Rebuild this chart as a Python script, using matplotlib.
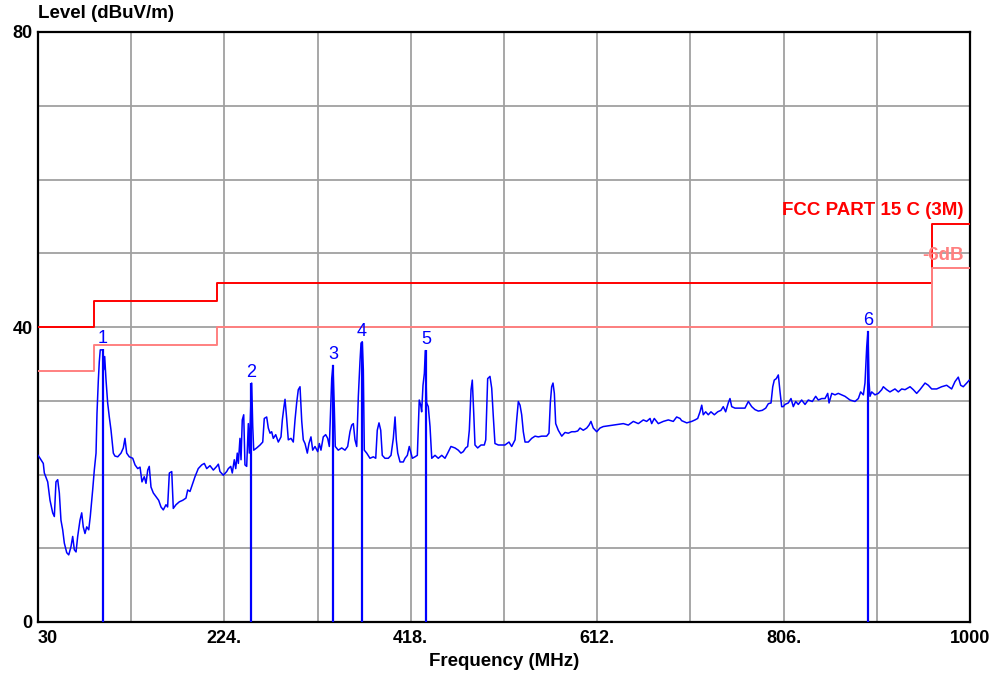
import matplotlib
matplotlib.use("Agg")
import matplotlib.pyplot as plt

# measured trace (MHz, dBuV/m)
freq = [30.0, 32.1, 35.5, 36.6, 40.1, 42.5, 45.3, 47.0, 48.7, 50.5, 52.2, 53.9, 55.7, 57.4,
        59.9, 62.0, 64.3, 66.1, 67.8, 69.6, 71.3, 73.7, 75.5, 77.1, 78.9, 80.7, 82.8, 84.4,
        86.9, 88.6, 90.4, 91.4, 92.8, 93.8, 94.8, 97.3, 98.4, 99.4, 100.8, 102.5, 104.2,
        106.0, 108.4, 110.1, 113.0, 116.4, 118.8, 120.5, 122.3, 125.0, 128.6, 131.0, 133.8,
        136.2, 138.2, 140.6, 142.4, 144.2, 145.8, 147.6, 150.0, 152.8, 155.6, 158.0, 160.4,
        163.2, 164.9, 166.7, 169.2, 170.8, 173.6, 177.1, 180.6, 184.0, 185.8, 188.2, 191.0,
        193.4, 196.8, 200.4, 203.1, 205.6, 209.0, 212.5, 216.0, 217.7, 219.4, 222.9, 226.4,
        228.1, 230.6, 232.2, 234.3, 235.8, 237.4, 238.5, 240.2, 241.3, 242.6, 244.1, 245.4,
        247.2, 248.9, 249.9, 251.4, 252.4, 253.5, 254.5, 257.6, 261.1, 263.9, 265.5, 268.0,
        269.7, 271.5, 273.2, 274.9, 277.4, 280.1, 282.9, 284.3, 286.0, 287.1, 288.8, 290.5,
        293.3, 295.7, 297.5, 299.2, 300.9, 302.7, 304.5, 306.1, 307.9, 310.3, 312.0, 314.1,
        315.9, 318.3, 321.1, 322.8, 324.5, 326.9, 329.4, 331.5, 333.2, 334.6, 335.7, 337.0,
        338.4, 339.4, 342.5, 346.1, 349.5, 352.3, 354.7, 356.5, 358.2, 359.9, 361.7, 363.4,
        365.1, 366.2, 367.5, 368.6, 369.6, 372.1, 375.5, 379.0, 381.5, 383.1, 384.9, 386.7,
        388.3, 391.1, 394.6, 397.4, 399.8, 401.6, 402.9, 404.4, 406.8, 410.2, 412.0, 414.4,
        416.4, 418.2, 419.6, 422.4, 424.8, 426.8, 428.3, 429.3, 430.7, 432.1, 433.1, 434.5,
        436.2, 438.0, 439.8, 443.2, 446.6, 450.2, 453.6, 456.4, 459.8, 464.0, 467.4, 470.2,
        472.6, 475.1, 477.2, 478.9, 480.7, 482.0, 483.5, 484.8, 487.6, 491.1, 494.5, 496.0,
        498.0, 500.4, 502.2, 503.9, 505.6, 509.1, 512.6, 516.0, 520.2, 523.0, 526.5, 528.2,
        529.9, 531.7, 533.4, 535.1, 536.9, 540.3, 543.8, 547.3, 550.7, 554.2, 559.4, 561.8,
        563.2, 564.6, 566.0, 567.4, 568.8, 571.5, 575.1, 578.5, 581.9, 585.5, 588.9, 591.7,
        594.1, 597.5, 601.1, 603.5, 605.5, 607.9, 611.5, 614.9, 618.3, 623.6, 628.8, 634.0,
        639.2, 644.4, 649.6, 654.8, 660.0, 663.5, 667.0, 668.7, 671.4, 675.6, 680.8, 686.0,
        691.2, 694.7, 698.2, 699.9, 705.2, 710.4, 713.8, 716.6, 719.0, 720.8, 722.4, 724.9,
        727.6, 730.4, 733.9, 737.4, 740.8, 743.2, 745.7, 748.4, 750.2, 752.0, 755.4, 760.6,
        765.8, 769.3, 772.8, 776.2, 779.7, 783.8, 787.4, 790.1, 792.9, 794.7, 796.3, 798.4,
        800.5, 802.3, 804.0, 805.7, 807.5, 810.9, 813.7, 816.1, 818.6, 821.3, 824.8, 828.3,
        831.7, 835.9, 839.4, 842.1, 845.7, 849.1, 851.9, 853.3, 856.1, 859.5, 862.9, 864.7,
        869.9, 875.1, 880.3, 883.8, 886.2, 889.0, 890.7, 892.5, 893.8, 894.9, 895.9, 897.7,
        901.1, 904.6, 908.1, 909.8, 913.3, 916.7, 921.9, 925.4, 928.9, 932.4, 937.6, 941.0,
        944.5, 947.9, 953.2, 956.6, 960.1, 965.3, 970.5, 975.7, 980.9, 984.4, 987.8, 990.3,
        993.0, 996.6, 999.3, 1000.0]
level = [22.6, 22.2, 21.5, 20.2, 19.0, 16.5, 14.8, 14.3, 19.0, 19.3, 17.5, 13.8, 12.5, 10.7,
         9.4, 9.1, 10.2, 11.6, 9.8, 9.5, 11.6, 13.8, 14.8, 12.9, 12.0, 12.9, 12.5, 14.3,
         17.9, 20.6, 22.9, 28.3, 32.8, 35.3, 36.9, 36.9, 34.2, 36.0, 32.8, 29.7,
         27.8, 26.0, 22.9, 22.5, 22.4, 22.9, 23.6, 24.9, 22.9, 22.4, 22.2, 21.3, 20.8,
         21.0, 19.0, 19.7, 18.8, 20.6, 21.1, 18.3, 17.5, 17.0, 16.5, 15.6, 15.2,
         15.9, 15.6, 20.2, 20.4, 15.4, 15.9, 16.3, 16.5, 16.8, 17.9, 17.7, 18.8,
         19.7, 20.8, 21.3, 21.5, 20.8, 21.2, 20.6, 21.1, 21.4, 20.4, 19.9, 20.4,
         20.8, 21.1, 20.2, 22.0, 20.8, 22.9, 21.5, 24.9, 22.0, 27.4, 28.1, 21.3,
         21.1, 26.9, 22.9, 29.2, 32.4, 26.5, 23.3, 23.6, 24.0, 24.4, 27.6, 27.8,
         26.3, 25.6, 25.8, 24.9, 25.4, 24.4, 25.1, 27.4, 29.2, 30.2, 27.6, 24.7,
         24.9, 24.4, 27.4, 29.7, 31.5, 31.9, 27.2, 24.7, 24.2, 22.9, 24.2, 25.1,
         23.3, 23.8, 23.1, 24.2, 23.3, 25.1, 25.4, 24.9, 23.8, 29.2, 33.0, 34.8,
         29.0, 23.8, 23.3, 23.6, 23.3, 23.8, 25.8, 26.7, 26.9, 24.7, 23.8, 30.6,
         35.3, 37.8, 38.0, 34.2, 23.3, 22.9, 22.2, 22.4, 22.2, 26.0, 27.0, 26.0,
         22.6, 22.2, 22.2, 22.6, 24.9, 27.8, 24.7, 22.9, 21.7, 21.7, 22.2, 22.6,
         23.8, 22.9, 22.2, 22.4, 22.6, 30.1, 29.4, 28.5, 32.1, 33.7, 36.8, 29.7,
         29.2, 26.5, 22.2, 22.6, 22.2, 22.6, 22.2, 22.9, 23.8, 23.6, 23.3, 22.9,
         23.1, 23.6, 23.8, 26.0, 31.5, 32.8, 28.3, 24.0, 23.6, 24.0, 24.0, 24.7,
         33.0, 33.3, 31.7, 27.8, 24.2, 24.0, 24.0, 24.0, 24.4, 23.8, 24.7, 27.4,
         29.9, 29.4, 28.1, 25.8, 24.4, 24.4, 24.9, 25.2, 25.1, 25.2, 25.2, 25.6,
         29.7, 31.9, 32.4, 31.0, 26.9, 26.0, 25.2, 25.7, 25.6, 25.8, 25.8, 25.9,
         26.3, 26.0, 26.3, 26.7, 27.2, 26.3, 25.8, 26.3, 26.5, 26.6, 26.7, 26.8,
         26.9, 26.7, 27.2, 26.9, 27.4, 27.2, 27.6, 26.9, 27.6, 26.9, 27.2, 27.4,
         27.2, 27.8, 27.6, 27.3, 27.0, 27.2, 27.4, 27.6, 28.5, 29.4, 28.1, 28.5,
         28.1, 28.5, 28.1, 28.5, 28.7, 29.2, 28.5, 29.7, 30.3, 29.2, 29.0, 29.0,
         29.0, 29.9, 29.2, 28.8, 28.6, 28.7, 29.0, 29.6, 29.7, 31.9, 32.8, 33.0,
         33.5, 31.2, 29.2, 29.2, 29.5, 29.7, 30.3, 29.2, 29.9, 29.5, 30.1, 29.5,
         30.1, 29.9, 30.6, 30.1, 30.3, 30.3, 31.0, 29.7, 31.0, 30.8, 31.0, 30.9,
         30.6, 30.1, 29.9, 30.3, 31.2, 30.8, 32.4, 37.3, 39.4, 32.6, 30.6, 31.2,
         30.8, 31.0, 31.5, 31.9, 31.5, 31.2, 31.6, 31.2, 31.6, 31.5, 31.9, 31.5,
         31.0, 31.5, 32.4, 32.1, 31.6, 31.6, 31.9, 32.1, 31.6, 32.6, 33.2, 32.1,
         31.9, 32.4, 32.8, 32.8]

# FCC Part 15 C (3m) limit and -6 dB line
limit_freq = [30, 88, 88, 216, 216, 960, 960, 1000]
limit_level = [40, 40, 43.5, 43.5, 46, 46, 54, 54]
margin_level = [34, 34, 37.5, 37.5, 40, 40, 48, 48]

# marker peaks
marker_freq = [97.3, 251.7, 337.0, 367.2, 433.8, 893.9]
marker_level = [37.0, 32.4, 34.8, 38.0, 36.9, 39.4]
marker_label = ["1", "2", "3", "4", "5", "6"]

x_ticks = [30, 127, 224, 321, 418, 515, 612, 709, 806, 903, 1000]
x_tick_labels = ["30", "", "224.", "", "418.", "", "612.", "", "806.", "", "1000"]
y_ticks = [0, 10, 20, 30, 40, 50, 60, 70, 80]
y_tick_labels = ["0", "", "", "", "40", "", "", "", "80"]

FONT = ["Liberation Sans", "DejaVu Sans"]
BLUE = "#0000ff"
RED = "#ff0000"
PINK = "#ff8080"

fig = plt.figure(figsize=(9.91, 6.79), dpi=100)
ax = fig.add_axes([38 / 991, 57 / 679, 932 / 991, 590 / 679])

ax.set_xlim(30, 1000)
ax.set_ylim(0, 80)
ax.set_xticks(x_ticks)
ax.set_xticklabels(x_tick_labels, fontsize=13, fontweight="bold", family=FONT)
ax.set_yticks(y_ticks)
ax.set_yticklabels(y_tick_labels, fontsize=13, fontweight="bold", family=FONT)
ax.tick_params(axis="both", length=0)
ax.tick_params(axis="x", pad=6)
ax.tick_params(axis="y", pad=4)
# first label starts at the axis edge
ax.get_xticklabels()[0].set_horizontalalignment("left")

ax.grid(True, color="#a0a0a0", linewidth=1.3)
ax.set_axisbelow(True)
for spine in ax.spines.values():
    spine.set_linewidth(1.6)
    spine.set_color("black")

ax.plot(limit_freq, limit_level, color=RED, linewidth=1.4, zorder=3)
ax.plot(limit_freq, margin_level, color=PINK, linewidth=1.4, zorder=3)
ax.plot(freq, level, color=BLUE, linewidth=1.1, zorder=4)

ax.vlines(marker_freq, 0, marker_level, color=BLUE, linewidth=1.6, zorder=5)
for f, lv, lab in zip(marker_freq, marker_level, marker_label):
    ax.text(f, lv + 0.3, lab, color=BLUE, fontsize=13, ha="center", va="bottom",
            family=FONT, zorder=6)

ax.text(993, 54.6, "FCC PART 15 C (3M)", color=RED, fontsize=13.5, fontweight="bold",
        ha="right", va="bottom", family=FONT, zorder=6)
ax.text(993, 48.6, "-6dB", color=PINK, fontsize=13.5, fontweight="bold",
        ha="right", va="bottom", family=FONT, zorder=6)

fig.text(38 / 991, 1 - 14 / 679, "Level (dBuV/m)", fontsize=13.5, fontweight="bold",
         ha="left", va="center", family=FONT)
fig.text(504 / 991, 1 - 662 / 679, "Frequency (MHz)", fontsize=13.5, fontweight="bold",
         ha="center", va="center", family=FONT)

fig.savefig("out.png", dpi=100)
